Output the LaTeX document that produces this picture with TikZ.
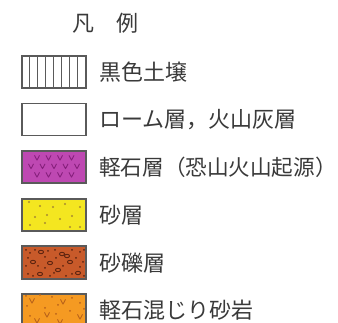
\documentclass[tikz,border=0pt]{standalone}
\usepackage{fontspec}
\usetikzlibrary{calc}
\newfontfamily\cjk{Noto Sans CJK JP}
\definecolor{txt}{HTML}{3A3A3A}
\definecolor{edge}{HTML}{5A5A5A}
\definecolor{magf}{HTML}{BE48B2}
\definecolor{magv}{HTML}{86207C}
\definecolor{yelf}{HTML}{F4E620}
\definecolor{yeld}{HTML}{A88A30}
\definecolor{brf}{HTML}{C85A2A}
\definecolor{brd}{HTML}{5E2410}
\definecolor{orf}{HTML}{F59A22}
\definecolor{ord}{HTML}{B8621A}
\tikzset{
  lbl/.style={anchor=west,inner sep=0pt,text=txt,font=\cjk\fontsize{22}{22}\selectfont},
  swatch/.style={draw=edge,line width=1.1pt,minimum width=64pt,minimum height=32pt,inner sep=0pt,anchor=center},
  vm/.style={line width=0.9pt,line cap=round,line join=round}
}
\newcommand\vmk[3]{\draw[vm,#3] (#1,#2) ++(-2.4,-2.4) -- ++(2.4,4.6) -- ++(2.4,-4.6);}
\begin{document}
\begin{tikzpicture}[x=1pt,y=-1pt]
\useasboundingbox (0,0) rectangle (338,323);
\clip (0,0) rectangle (338,323);
\fill[white] (0,0) rectangle (338,323);
% title
\node[lbl] (title) at (72,23.5) {凡　例};
% 1 black soil
\node[swatch,fill=white] (s1) at (54,72) {};
\foreach \i in {1,...,7} \draw[edge,line width=0.9pt] ($(s1.south west)+(8*\i,0)$) -- ($(s1.north west)+(8*\i,0)$);
\draw[edge,line width=1.1pt] (s1.south west) rectangle (s1.north east);
\node[lbl] (l1) at (99,72.5) {黒色土壌};
% 2 loam
\node[swatch,fill=white] (s2) at (54,119.5) {};
\node[lbl] (l2) at (99,120) {ローム層，火山灰層};
% 3 pumice
\node[swatch,fill=magf] (s3) at (54,167) {};
\foreach \x in {37,48.5,60,71.5} \vmk{\x}{158}{magv};
\foreach \x in {31,42.5,54,65.5,77} \vmk{\x}{166.5}{magv};
\foreach \x in {37,48.5,60,71.5} \vmk{\x}{175}{magv};
\draw[edge,line width=1.1pt] (s3.south west) rectangle (s3.north east);
\node[lbl,font=\cjk\fontsize{21.6}{21.6}\selectfont] (l3) at (99,167.5) {軽石層（恐山火山起源\makebox[0.45em][l]{）}};
% 4 sand
\node[swatch,fill=yelf] (s4) at (54,215) {};
\foreach \p in {(29,202),(40,206),(53,207),(65,204),(80,207),(35,217),(47,215),(60,219),(72,216),(30,225),(45,223),(70,227),(80,227)}
  \fill[yeld] \p circle (1.1pt);
\draw[edge,line width=1.1pt] (s4.south west) rectangle (s4.north east);
\node[lbl] (l4) at (99,215.5) {砂層};
% 5 gravel
\node[swatch,fill=brf] (s5) at (54,262.5) {};
\foreach \p in {(41,252),(62,254),(33,262),(50,263),(70,262),(58,270),(40,274),(78,273),(67,256)}
  \draw[brd,line width=0.9pt] \p ellipse (2.6pt and 1.7pt);
\foreach \p in {(26,250),(30,253),(35,250),(48,251),(55,250),(72,250),(80,252),(84,250),(28,258),(45,257),(56,258),(76,258),(83,262),(26,266),(38,266),(45,268),(63,266),(80,267),(28,274),(33,276),(50,276),(54,273),(66,276),(72,274),(84,276)}
  \fill[brd] \p circle (1pt);
\draw[edge,line width=1.1pt] (s5.south west) rectangle (s5.north east);
\node[lbl] (l5) at (99,263) {砂礫層};
% 6 pumice sandstone
\node[swatch,fill=orf] (s6) at (54,310) {};
\foreach \x/\y in {32/301,63/302,47/315,80/317,37/321,60/322} \vmk{\x}{\y}{ord};
\foreach \p in {(26,296),(40,295),(52,297),(58,305),(72,298),(80,303),(27,306),(45,308),(70,311),(30,316),(56,314),(84,309)}
  \fill[ord] \p circle (1pt);
\draw[edge,line width=1.1pt] (s6.south west) rectangle (s6.north east);
\node[lbl] (l6) at (99,310.5) {軽石混じり砂岩};
\end{tikzpicture}
\end{document}
